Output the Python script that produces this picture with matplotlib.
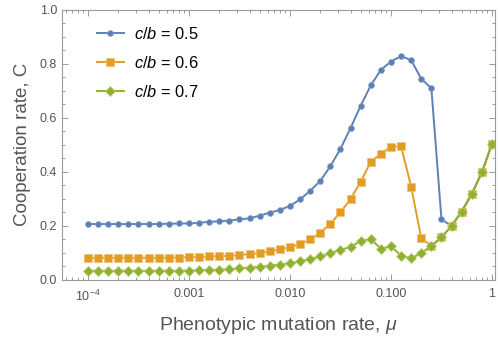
import matplotlib
matplotlib.use("Agg")
import matplotlib.pyplot as plt
import matplotlib.ticker as mticker
import numpy as np

plt.rcParams['font.family'] = ['Liberation Sans', 'DejaVu Sans']
plt.rcParams['mathtext.fontset'] = 'custom'
plt.rcParams['mathtext.rm'] = 'Liberation Sans'
plt.rcParams['mathtext.it'] = 'Liberation Sans:italic'

# mutation rates: 10 points per decade from 1e-4 to 1
mu = 10.0 ** (-4 + np.arange(41) / 10.0)

coop_05 = [0.207, 0.207, 0.207, 0.207, 0.207, 0.207, 0.207, 0.207, 0.208, 0.209,
           0.209, 0.212, 0.215, 0.217, 0.220, 0.224, 0.228, 0.238, 0.249, 0.259,
           0.274, 0.298, 0.330, 0.366, 0.421, 0.485, 0.562, 0.644, 0.720, 0.777,
           0.808, 0.828, 0.813, 0.744, 0.709, 0.224, 0.200, 0.253, 0.318, 0.398,
           0.503]
coop_06 = [0.082, 0.082, 0.082, 0.082, 0.082, 0.082, 0.082, 0.082, 0.082, 0.083,
           0.084, 0.085, 0.087, 0.088, 0.089, 0.092, 0.096, 0.099, 0.106, 0.113,
           0.121, 0.132, 0.150, 0.175, 0.208, 0.250, 0.300, 0.363, 0.437, 0.467,
           0.492, 0.495, 0.345, 0.154, 0.126, 0.158, 0.200, 0.253, 0.318, 0.398,
           0.503]
coop_07 = [0.034, 0.034, 0.034, 0.034, 0.034, 0.034, 0.034, 0.034, 0.034, 0.034,
           0.035, 0.036, 0.037, 0.038, 0.040, 0.043, 0.046, 0.049, 0.053, 0.057,
           0.062, 0.069, 0.077, 0.087, 0.099, 0.112, 0.122, 0.145, 0.151, 0.116,
           0.124, 0.090, 0.080, 0.099, 0.126, 0.158, 0.200, 0.253, 0.318, 0.398,
           0.503]

labels = [r'$c/b$ = 0.5', r'$c/b$ = 0.6', r'$c/b$ = 0.7']

fig = plt.figure(figsize=(4.98, 3.43), dpi=100)
ax = fig.add_axes([0.1245, 0.1837, 0.8695, 0.7883])

ax.plot(mu, coop_05, '-o', color='#5E81B5', lw=1.4, ms=4.3,
        mec='#8aa3cc', mew=0.4, label=labels[0])
ax.plot(mu, coop_06, '-s', color='#E19C24', lw=1.4, ms=6.3,
        mec='#f0c070', mew=0.5, label=labels[1])
ax.plot(mu, coop_07, '-D', color='#8FB032', lw=1.4, ms=5.3,
        mec='#b8cf70', mew=0.5, label=labels[2])

ax.set_xscale('log')
ax.set_xlim(5.53e-5, 1.072)
ax.set_ylim(0, 1.0)

ax.xaxis.set_major_locator(mticker.FixedLocator([1e-4, 1e-3, 1e-2, 1e-1, 1]))
ax.xaxis.set_major_formatter(mticker.FixedFormatter(
    [r'$10^{-4}$', '0.001', '0.010', '0.100', '1']))
ax.xaxis.set_minor_locator(mticker.LogLocator(base=10, subs=np.arange(2, 10), numticks=20))
ax.xaxis.set_minor_formatter(mticker.NullFormatter())
ax.yaxis.set_major_locator(mticker.MultipleLocator(0.2))
ax.yaxis.set_minor_locator(mticker.MultipleLocator(0.05))
ax.yaxis.set_major_formatter(mticker.FormatStrFormatter('%.1f'))

grey = '#9a9a9a'
for sp in ax.spines.values():
    sp.set_color(grey)
    sp.set_linewidth(0.8)
ax.tick_params(which='both', direction='in', top=True, right=True, color=grey,
               labelcolor='#555555', labelsize=9, width=0.7)
ax.tick_params(which='major', length=4)
ax.tick_params(which='minor', length=2.2)
ax.tick_params(axis='x', pad=6)

ax.set_xlabel(r'Phenotypic mutation rate, $\mu$', fontsize=14, color='#555555', labelpad=8)
ax.set_ylabel('Cooperation rate, C', fontsize=13.5, color='#555555', labelpad=6)

ax.legend(loc='upper left', frameon=False, fontsize=11.8, handlelength=1.65,
          handletextpad=0.6, labelspacing=0.8, bbox_to_anchor=(0.065, 0.965),
          borderaxespad=0)

plt.savefig('out.png', dpi=100)
